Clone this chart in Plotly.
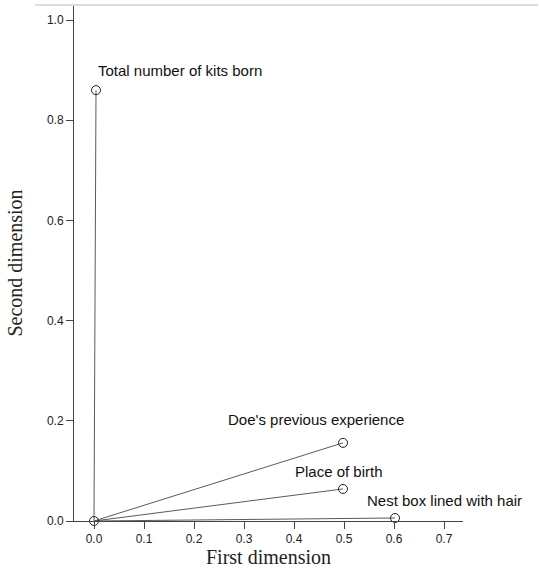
import plotly.graph_objects as go

labels = ["Total number of kits born", "Doe's previous experience", "Place of birth", "Nest box lined with hair"]
dim1 = [0.004, 0.498, 0.498, 0.602]
dim2 = [0.860, 0.156, 0.064, 0.006]
x_ticks = [0.0, 0.1, 0.2, 0.3, 0.4, 0.5, 0.6, 0.7]
y_ticks = [0.0, 0.2, 0.4, 0.6, 0.8, 1.0]

# label offsets (pixels) relative to point
label_style = [
    dict(xanchor="left", xshift=-0, yshift=20),
    dict(xanchor="center", xshift=-27, yshift=23),
    dict(xanchor="center", xshift=-4, yshift=17),
    dict(xanchor="center", xshift=49, yshift=17),
]

fig = go.Figure()
for i in range(len(labels)):
    fig.add_trace(go.Scatter(
        x=[0, dim1[i]], y=[0, dim2[i]], mode="lines",
        line=dict(color="#5a5a5a", width=1), showlegend=False, hoverinfo="skip",
        cliponaxis=False))
fig.add_trace(go.Scatter(
    x=[0] + dim1, y=[0] + dim2, mode="markers",
    marker=dict(symbol="circle-open", size=9, color="#222222", line=dict(width=1)),
    showlegend=False, cliponaxis=False))

for i, lab in enumerate(labels):
    st = label_style[i]
    fig.add_annotation(x=dim1[i], y=dim2[i], text=lab, showarrow=False,
                       xanchor=st["xanchor"], yanchor="middle",
                       xshift=st["xshift"], yshift=st["yshift"],
                       font=dict(family="Liberation Sans, Arial", size=15, color="#111111"))

fig.add_shape(type="line", xref="paper", yref="paper", x0=-0.1, x1=1.193, y0=1.0, y1=1.0,
              line=dict(color="#dddddd", width=2))

fig.update_layout(
    width=539, height=569,
    margin=dict(l=74, r=76, t=5, b=48),
    plot_bgcolor="white", paper_bgcolor="white",
    xaxis=dict(range=[-0.04, 0.738], tickvals=x_ticks, ticktext=[f"{v:.1f}" for v in x_ticks],
               showgrid=False, zeroline=False, showline=True, linecolor="#444444", linewidth=1,
               ticks="outside", ticklen=7, tickcolor="#444444",
               tickfont=dict(family="Liberation Sans, Arial", size=12, color="#222222"),
               title=dict(text="First dimension", standoff=2,
                          font=dict(family="Liberation Serif, Times New Roman", size=20, color="#222222"))),
    yaxis=dict(range=[0, 1.03], tickvals=y_ticks, ticktext=[f"{v:.1f}" for v in y_ticks],
               showgrid=False, zeroline=False, showline=True, linecolor="#444444", linewidth=1,
               ticks="outside", ticklen=7, tickcolor="#444444",
               tickfont=dict(family="Liberation Sans, Arial", size=12, color="#222222"),
               title=dict(text="Second dimension", standoff=18,
                          font=dict(family="Liberation Serif, Times New Roman", size=20, color="#222222"))),
)

fig.write_html("out.html", config={"displayModeBar": False},
               post_script="document.body.style.margin='0px';")
